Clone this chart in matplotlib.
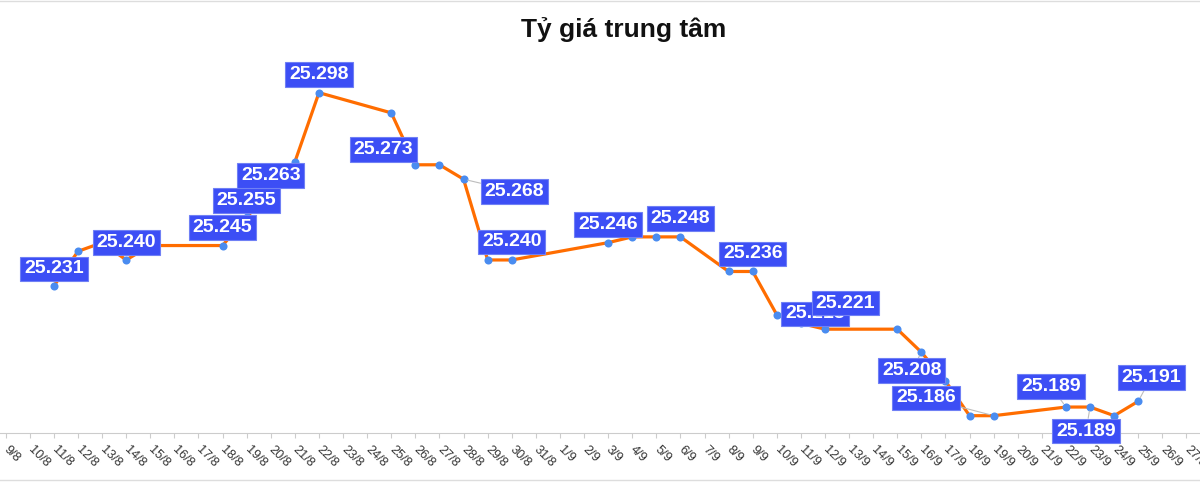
import matplotlib
matplotlib.use("Agg")
import matplotlib.pyplot as plt
import pandas as pd

# === Data (central rate, VND/USD thousand) ===
dates = ["11/8", "12/8", "13/8", "14/8", "15/8", "18/8", "19/8", "20/8", "21/8", "22/8",
         "25/8", "26/8", "27/8", "28/8", "29/8", "30/8", "3/9", "4/9", "5/9", "6/9",
         "8/9", "9/9", "10/9", "11/9", "12/9", "15/9", "16/9", "17/9", "18/9", "19/9",
         "22/9", "23/9", "24/9", "25/9"]
values = [25.231, 25.243, 25.246, 25.240, 25.245, 25.245, 25.255, 25.263, 25.274, 25.298,
          25.291, 25.273, 25.273, 25.268, 25.240, 25.240, 25.246, 25.248, 25.248, 25.248,
          25.236, 25.236, 25.221, 25.218, 25.216, 25.216, 25.208, 25.198, 25.186, 25.186,
          25.189, 25.189, 25.186, 25.191]
axis_start = "9/8"
axis_end = "27/9"
title = "Tỷ giá trung tâm"

# label placement: date -> (dx px, dy px, draw connector)
label_offsets = {
    "11/8": (0, 17, False), "14/8": (0, 17.5, False), "18/8": (0, 18, False),
    "19/8": (0, 16, False), "20/8": (0, 18, False), "22/8": (0, 18, False),
    "26/8": (-32, 15, False), "28/8": (51, -12, True), "30/8": (0, 18, False),
    "3/9": (0, 18, False), "6/9": (0, 18, False), "9/9": (0, 17.5, False),
    "11/9": (14, 9.5, False), "10/9": (68.7, 11.7, False),
    "16/9": (-9.6, -18.5, True), "19/9": (-67.7, 17.7, True),
    "22/9": (-15, 20.7, True), "23/9": (-4, -24, True), "25/9": (13, 24, True),
}


def to_date(s):
    d, m = s.split("/")
    return pd.Timestamp(2025, int(m), int(d))


x = [to_date(d) for d in dates]

plt.rcParams["font.family"] = ["Liberation Sans", "DejaVu Sans"]

fig = plt.figure(figsize=(12, 4.82), dpi=100)
ax = fig.add_axes([0, 1 - 433 / 482, 1, (433 - 50) / 482])

ax.plot(x, values, color="#ff6d00", lw=2.3, zorder=3, solid_joinstyle="round")
ax.plot(x, values, "o", color="#4a8cf0", markersize=5.8, markeredgewidth=0, zorder=4)

for i, d in enumerate(dates):
    if d not in label_offsets:
        continue
    dx, dy, conn = label_offsets[d]
    arrow = None
    if conn:
        arrow = dict(arrowstyle="-", color="#bdbdbd", lw=0.8, shrinkA=0, shrinkB=3)
    ax.annotate(f"{values[i]:.3f}", xy=(x[i], values[i]), xytext=(dx, dy),
                textcoords="offset pixels", ha="center", va="center",
                fontsize=14, fontweight="bold", color="white",
                bbox=dict(boxstyle="square,pad=0.2", fc="#3c4ef5", ec="#7080f5", lw=0.8),
                arrowprops=arrow, zorder=6 if d != "11/9" else 5,
                annotation_clip=False)

start = to_date(axis_start)
end = to_date(axis_end)
ticks = pd.date_range(start - pd.Timedelta(days=1), end, freq="D")
ax.set_xticks(ticks)
ax.set_xticklabels([f"{t.day}/{t.month}" for t in ticks], rotation=-45,
                   ha="left", va="center", rotation_mode="anchor")
ax.set_xlim(start - pd.Timedelta(hours=5.7), end + pd.Timedelta(hours=13.5))
ax.set_ylim(25.1800, 25.3128)
ax.tick_params(axis="x", length=3.6, color="#cccccc", labelsize=9.2,
               labelcolor="#333333", pad=7)
ax.set_yticks([])
for s in ["left", "right", "top"]:
    ax.spines[s].set_visible(False)
ax.spines["bottom"].set_color("#cccccc")
ax.patch.set_alpha(0)

fig.text(624 / 1200, 1 - 37.5 / 482, title, ha="center", va="baseline",
         fontsize=19, fontweight="bold", color="#111111")

# thin frame lines at top and bottom
fig.add_artist(plt.Line2D([0, 1], [0.998, 0.998], color="#dddddd", lw=1))
fig.add_artist(plt.Line2D([0, 1], [0.004, 0.004], color="#dddddd", lw=1))

fig.savefig("out.png", dpi=100)
